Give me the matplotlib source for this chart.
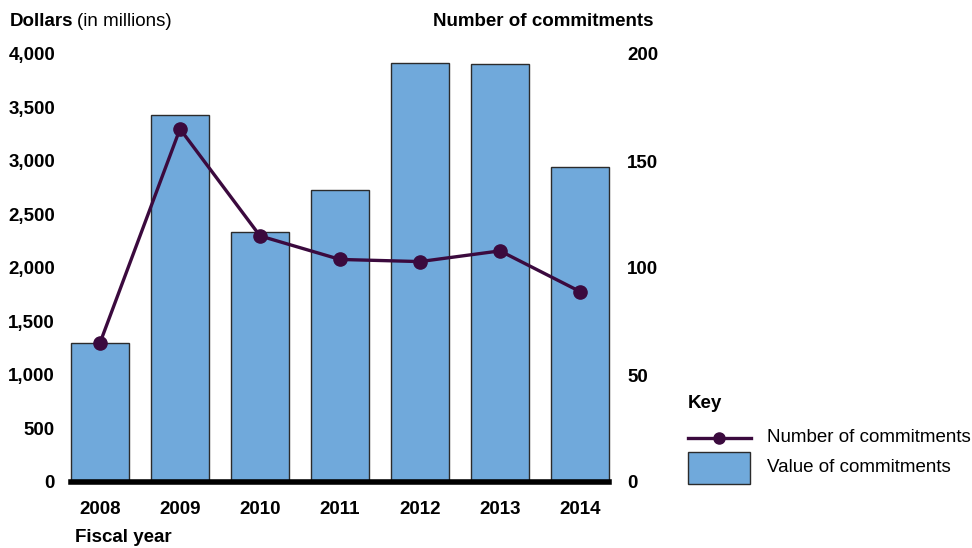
import matplotlib.pyplot as plt
from matplotlib.lines import Line2D
from matplotlib.patches import Rectangle
from matplotlib.ticker import FuncFormatter

plt.rcParams['font.family'] = ['Liberation Sans', 'DejaVu Sans']

years = ["2008", "2009", "2010", "2011", "2012", "2013", "2014"]
dollars = [1300, 3430, 2336, 2729, 3916, 3907, 2944]
commitments = [65, 165, 115, 104, 103, 108, 89]

BAR_COLOR = "#70a9db"
LINE_COLOR = "#3b0a3e"
FS = 13.5

W, H = 972, 548
fig = plt.figure(figsize=(W / 100, H / 100), dpi=100)
ax = fig.add_axes([71 / W, 1 - 482 / H, (609 - 71) / W, (482 - 54) / H])
ax2 = ax.twinx()

x = list(range(len(years)))
bars = ax.bar(x, dollars, width=0.725, color=BAR_COLOR, edgecolor="#2b2b2b", linewidth=1.0, zorder=2)
for b in bars:
    b.set_clip_on(False)
ax.set_xlim(-0.3625, len(years) - 1 + 0.3625)
ax.set_ylim(0, 4000)
ax.set_yticks(range(0, 4001, 500))
ax.yaxis.set_major_formatter(FuncFormatter(lambda v, _: f"{int(v):,}"))
ax.set_xticks(x)
ax.set_xticklabels(years)

ax2.plot(x, commitments, color=LINE_COLOR, linewidth=2.4, marker="o", markersize=9.5, zorder=3)
ax2.set_ylim(0, 200)
ax2.set_yticks(range(0, 201, 50))

for a in (ax, ax2):
    for s in a.spines.values():
        s.set_visible(False)
    a.tick_params(length=0, labelsize=FS)
    for lab in a.get_xticklabels() + a.get_yticklabels():
        lab.set_fontweight("bold")
ax.tick_params(axis="y", pad=11.5)
ax.tick_params(axis="x", pad=14)
ax2.tick_params(axis="y", pad=13)
ax.axhline(0, color="black", linewidth=4, zorder=4, clip_on=False)

fig.text(10 / W, 1 - 21 / H, "Dollars", fontsize=FS, fontweight="bold", va="center")
fig.text(77 / W, 1 - 21 / H, "(in millions)", fontsize=FS, va="center")
fig.text(433 / W, 1 - 21 / H, "Number of commitments", fontsize=FS, fontweight="bold", va="center")
fig.text(75 / W, 1 - 538 / H, "Fiscal year", fontsize=FS, fontweight="bold", va="center")

# key
fig.text(688 / W, 1 - 403 / H, "Key", fontsize=FS, fontweight="bold", va="center")
fig.add_artist(Line2D([688 / W, 751 / W], [1 - 438 / H, 1 - 438 / H], color=LINE_COLOR,
                      linewidth=2.4, transform=fig.transFigure))
fig.add_artist(Line2D([719 / W], [1 - 438 / H], color=LINE_COLOR, marker="o", markersize=8,
                      transform=fig.transFigure))
fig.add_artist(Rectangle((688 / W, 1 - 484 / H), 62 / W, 32 / H, facecolor=BAR_COLOR,
                         edgecolor="#2b2b2b", linewidth=1.0, transform=fig.transFigure))
fig.text(767 / W, 1 - 438 / H, "Number of commitments", fontsize=FS, va="center")
fig.text(767 / W, 1 - 468 / H, "Value of commitments", fontsize=FS, va="center")

fig.savefig("out.png", dpi=100)
